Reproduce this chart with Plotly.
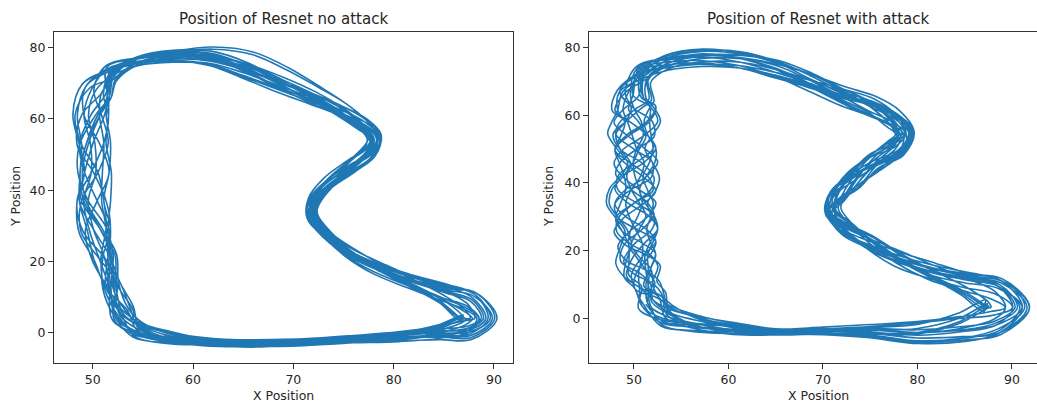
import numpy as np
import plotly.graph_objects as go

# ---------------- data: track centre waypoints ----------------
# Left panel ("no attack")
NO_ATTACK_X = [53.0, 54.5, 57.5, 61.0, 66.0, 71.0, 76.0, 80.5, 84.5, 87.3,
               88.3, 87.3, 85.0, 81.5, 78.3, 75.5, 73.3, 71.8, 72.0, 73.5,
               75.8, 77.6, 78.0, 76.8, 74.8, 72.0, 68.8, 65.3, 61.8, 58.0,
               54.5, 51.8, 50.3, 49.8, 50.0, 50.3, 50.0, 50.3, 51.0, 51.8]
NO_ATTACK_Y = [5.5, 1.0, -1.3, -2.5, -3.0, -2.6, -1.9, -1.0, 0.3, 1.8,
               4.0, 7.5, 10.5, 14.5, 18.3, 22.5, 27.5, 32.5, 37.0, 42.0,
               47.0, 51.0, 55.0, 58.5, 62.0, 65.8, 69.5, 73.5, 76.5, 77.3,
               76.2, 73.0, 68.0, 61.0, 53.0, 45.0, 37.0, 29.0, 21.0, 13.0]
# half-width of the band of laps at each waypoint
NO_ATTACK_SPREAD = [1.6, 1.2, 0.8, 0.6, 0.55, 0.55, 0.6, 0.8, 1.2, 1.8,
                    2.0, 1.8, 1.3, 1.0, 0.9, 0.9, 0.9, 1.0, 1.0, 1.0,
                    1.1, 1.1, 1.0, 1.1, 1.2, 1.2, 1.2, 1.2, 1.0, 0.9,
                    1.0, 1.5, 1.9, 2.0, 2.0, 2.0, 2.0, 1.9, 1.6, 1.5]
# lateral position of every lap at every waypoint (in ninths of the spread)
NO_ATTACK_LAPS = [
    [3, 4, 5, 4, 2, 0, -2, -3, -2, 0, 2, 3, 2, 0, -2, -3, -2, 0, 2, 4, 5, 4, 2, 0, -1, -2, -2, 0, 3, 4, 2, -3, -7, -2, 6, 8, 2, -5, -6, -1],
    [-2, -4, -5, -4, -3, -2, -1, 1, 3, 5, 7, 6, 4, 2, 1, 0, 1, 2, 3, 2, 0, -2, -4, -5, -4, -2, 0, 2, 3, 1, -1, -4, -3, -4, -5, -3, -4, -5, -3, 0],
    [5, 2, 0, -2, -4, -5, -6, -5, -4, -3, -1, 1, 3, 5, 6, 5, 3, 1, -1, -3, -4, -3, -1, 1, 3, 5, 6, 5, 3, 0, -3, -6, -8, -3, 3, 7, 5, -2, -7, -4],
    [-6, -3, 1, 3, 5, 6, 5, 4, 3, 4, 5, 7, 8, 6, 3, 0, -3, -4, -3, -1, 1, 3, 4, 3, 1, -1, -3, -4, -4, -3, -1, 3, 5, 6, 5, 7, 6, 4, 5, 3],
    [1, 6, 7, 5, 3, 2, 1, 0, -1, -3, -5, -7, -6, -4, -2, -1, 0, 1, 2, 3, 4, 5, 6, 5, 4, 3, 2, 1, 0, -1, -2, 0, -4, -8, -5, 2, 7, 6, -1, -6],
    [-5, -1, 2, 1, 0, -1, -3, -4, -5, -6, -7, -8, -6, -3, -1, 1, 2, 3, 4, 5, 6, 6, 5, 3, 1, 0, -1, -2, -3, -5, -4, -2, 0, 1, -1, 0, 2, 1, -1, 1],
    [7, 3, -1, -3, -3, -2, 0, 2, 4, 6, 8, 8, 6, 4, 2, 0, -2, -4, -5, -6, -5, -4, -2, 0, 2, 3, 4, 4, 5, 5, 3, 1, -6, -4, 2, 6, 3, -3, -8, -5],
    [-4, -6, -4, -2, 0, 1, 3, 5, 6, 7, 9, 8, 5, 2, -1, -3, -4, -3, -1, 1, 2, 1, 0, -2, -3, -4, -3, -1, 1, 2, 2, 4, -6, -7, -8, -6, -5, -7, -4, -2],
    [2, 0, 3, 5, 6, 4, 2, 0, -2, -4, -3, -2, 0, 3, 5, 6, 4, 2, 0, -2, -3, -5, -6, -4, -2, 0, 2, 4, 6, 6, 4, -1, -3, 4, 7, 1, -6, -7, 0, 5],
    [5, 7, 6, 3, 1, -1, -2, -1, 0, 1, 3, 4, 3, 1, -1, -2, -3, -2, 0, 2, 4, 6, 7, 6, 4, 2, 1, 0, -1, -2, -3, -5, -8, -4, 3, 7, 4, -2, -5, 2],
    [1, -3, -6, -6, -5, -3, -1, 1, 2, 2, 1, 0, -2, -4, -5, -4, -2, 0, 3, 5, 6, 5, 3, 1, -1, -3, -4, -5, -5, -4, -2, 2, 7, 8, 6, 5, 7, 8, 5, 3],
    [-3, 1, 4, 6, 5, 3, 1, -1, -3, -5, -6, -5, -3, -1, 1, 3, 5, 6, 5, 3, 1, -1, -3, -4, -3, -2, 0, 1, 2, 3, 3, 5, 1, -5, -7, -1, 5, 7, 2, -4],
    [6, 5, 2, 0, -2, -3, -4, -3, -1, 2, 4, 5, 6, 6, 4, 2, 0, -1, -2, -1, 0, 2, 3, 5, 7, 10, 14, 15, 12, 6, 2, -2, -5, 0, 6, 5, -2, -6, -3, 3],
    [-1, -5, -7, -5, -2, 0, 2, 3, 3, 2, 0, -2, -4, -6, -7, -5, -3, -1, 1, 3, 5, 4, 2, -1, -3, -5, -6, -6, -5, -3, 0, 3, 2, 3, 1, 2, 4, 3, 2, 1],
    [4, 2, 1, 2, 3, 4, 5, 6, 5, 3, 1, -1, -2, -2, -1, 1, 3, 4, 5, 4, 2, 0, -2, -3, -2, 0, 3, 6, 8, 7, 4, 0, -7, -6, 0, 5, 6, 1, -4, -6],
    [-7, -2, 3, 5, 4, 2, 0, -2, -4, -6, -8, -7, -5, -2, 0, 2, 3, 2, 0, -2, -4, -6, -5, -3, 0, 2, 4, 5, 4, 2, -1, -4, 3, 7, 5, -1, -5, -5, 1, 4],
    [3, 4, -1, -4, -6, -5, -3, -1, 1, 3, 6, 7, 7, 5, 3, 1, -1, -3, -4, -3, -1, 1, 3, 5, 7, 9, 12, 13, 10, 5, 3, -3, -7, -8, -6, -7, -8, -6, -5, -3],
    [0, -3, -2, 0, 2, 4, 5, 3, 1, -1, -2, -3, -3, -2, 0, 2, 4, 5, 6, 5, 3, 1, -1, -2, -1, 1, 2, 3, 1, -1, -2, 1, 5, 3, -3, -6, -2, 5, 6, 2],
]

# Right panel ("with attack")
ATTACK_X = [52.0, 53.5, 56.5, 60.5, 65.0, 70.0, 75.0, 80.0, 84.5, 88.0,
            89.3, 88.0, 85.0, 81.5, 78.0, 75.0, 72.5, 70.8, 71.5, 73.2,
            75.3, 77.8, 78.5, 77.3, 75.0, 72.0, 68.5, 65.0, 61.3, 57.3,
            53.5, 51.0,
            49.9, 50.0, 50.2, 50.1, 50.0, 50.2, 50.1, 50.0, 50.0, 50.1,
            50.2, 50.3, 50.6, 51.0, 51.5]
ATTACK_Y = [5.5, 1.0, -1.5, -3.0, -4.0, -3.7, -3.8, -4.2, -2.5, 0.3,
            3.2, 6.8, 10.0, 13.5, 17.5, 22.0, 26.5, 31.5, 36.0, 41.0,
            46.0, 50.5, 54.5, 58.5, 62.5, 66.0, 70.0, 73.5, 76.0, 76.8,
            75.3, 72.0,
            66.0, 62.0, 58.0, 54.0, 50.0, 46.0, 42.0, 38.0, 34.0, 30.0,
            26.0, 22.0, 18.0, 14.0, 10.0]
ATTACK_SPREAD = [2.0, 1.5, 1.0, 0.8, 0.5, 0.6, 0.9, 1.3, 1.6, 2.0,
                 2.3, 2.0, 1.5, 1.2, 1.1, 1.1, 1.2, 1.3, 1.3, 1.4,
                 1.4, 1.4, 1.3, 1.3, 1.4, 1.4, 1.4, 1.3, 1.1, 1.1,
                 1.3, 1.7,
                 2.6, 2.6, 2.6, 2.6, 2.6, 2.6, 2.6, 2.6, 2.6, 2.6,
                 2.6, 2.6, 2.6, 2.4, 2.2]
ATTACK_LAPS = [
    [4, 5, 4, 2, 0, -2, -3, -2, 0, 2, 4, 5, 3, 0, -3, -5, -2, 3, 6, 4, 1, -2, -4, -3, 0, 3, 5, 4, 2, 0, -2, -4, -7, -3, 4, 8, 5, -2, -7, -6, 0, 6, 7, 2, -4, -6, -2],
    [-3, -5, -6, -4, -2, 0, 2, 4, 6, 8, 9, 7, 4, 1, -1, 2, 5, 2, -3, -5, -4, -1, 2, 5, 6, 4, 1, -2, -4, -5, -3, 1, 2, 4, 3, 1, -1, -3, -2, 1, 3, 2, 0, -2, -1, 2, 4],
    [6, 3, 0, -3, -5, -6, -7, -8, -6, -3, 0, 2, 4, 6, 7, 4, 0, -4, -6, -3, 1, 4, 6, 5, 2, -1, -3, -5, -6, -4, -1, 3, 0, -6, -8, -3, 4, 8, 5, -2, -8, -5, 2, 7, 5, -1, -5],
    [-6, -2, 2, 4, 5, 6, 7, 8, 7, 6, 8, 9, 7, 4, 1, -2, -5, -3, 2, 5, 6, 3, 0, -3, -5, -4, -2, 0, 2, 3, 2, -1, -4, -6, -5, -6, -7, -5, -3, -5, -7, -6, -4, -5, -6, -3, 0],
    [2, 7, 8, 6, 3, 1, -1, -3, -5, -7, -8, -9, -7, -4, -1, 3, 6, 4, 0, -3, -5, -6, -4, -1, 2, 4, 6, 7, 5, 2, 0, -3, 3, 7, 2, -5, -7, 0, 6, 6, -1, -7, -6, 1, 6, 4, -2],
    [-5, 0, 3, 2, 0, -2, -4, -6, -8, -9, -9, -7, -5, -2, 1, 4, 2, -2, -5, -2, 2, 5, 7, 6, 3, 0, -2, -4, -6, -7, -5, -2, 5, 6, 4, 5, 7, 6, 4, 3, 5, 7, 5, 3, 4, 6, 3],
    [8, 4, 0, -2, -3, -2, 1, 4, 6, 8, 10, 9, 6, 3, 0, -3, -1, 3, 5, 2, -2, -5, -3, 0, 3, 4, 5, 5, 6, 6, 4, 1, -4, -8, -4, 3, 7, 2, -5, -7, 0, 7, 5, -2, -6, -3, 2],
    [-4, -7, -5, -2, 1, 3, 5, 7, 8, 9, 10, 8, 5, 1, -2, -4, -6, -2, 3, 6, 3, 0, -2, -4, -6, -5, -3, 0, 2, 4, 3, 5, 1, 0, -2, -3, -1, 1, 0, -2, -3, -1, 2, 3, 1, -1, -3],
    [1, -1, 2, 4, 6, 5, 3, 1, -2, -5, -6, -4, -1, 2, 5, 7, 4, 0, -4, -6, -5, -7, -6, -3, 0, 2, 4, 6, 8, 7, 5, 0, -2, 4, 8, 3, -4, -8, -4, 3, 7, 3, -4, -7, -1, 5, 6],
    [5, 8, 7, 4, 2, 0, -1, 0, 2, 3, 5, 6, 4, 1, -2, -5, -3, 1, 4, 7, 5, 7, 8, 6, 4, 2, 1, 0, -1, -3, -4, -6, -8, -6, -3, -5, -8, -7, -4, -2, -4, -7, -8, -5, -2, -1, 0],
    [0, -4, -7, -7, -6, -4, -2, 0, 1, 1, 0, -2, -4, -6, -4, 0, 4, 6, 3, -1, -4, -3, 1, 3, 1, -2, -4, -6, -6, -5, -3, 2, 6, 8, 2, -5, -8, -3, 4, 7, 2, -5, -8, -3, 3, 7, 4],
    [-3, 2, 5, 7, 6, 4, 2, 0, -3, -6, -7, -6, -4, -2, 1, 3, 6, 8, 5, 1, -1, -3, -5, -6, -4, -3, -1, 1, 2, 3, 4, 6, 3, 1, 4, 7, 5, 2, 4, 8, 9, 6, 3, 2, 5, 8, 6],
    [6, 6, 3, 1, -1, -3, -5, -7, -5, -1, 3, 5, 7, 8, 6, 2, -2, -4, -2, 1, 3, 6, 8, 9, 8, 6, 5, 4, 3, 2, 0, -3, -6, -1, 6, 7, 0, -6, -6, 1, 7, 6, -1, -7, -4, 3, 6],
    [-2, -6, -8, -6, -3, -1, 1, 2, 3, 4, 3, 1, -2, -5, -7, -5, -1, 3, 6, 4, 2, 0, -2, -4, -6, -7, -6, -5, -4, -2, 1, 4, 0, 2, -1, -4, -2, 1, 3, 1, -2, -4, -1, 2, 0, -3, -2],
    [3, 1, 0, 2, 4, 5, 6, 8, 9, 8, 7, 4, 1, -2, -1, 2, 5, 3, -1, -4, -6, -4, -1, 1, 2, 1, 2, 5, 7, 8, 6, 2, -3, -8, -5, 2, 7, 4, -3, -8, -4, 4, 8, 4, -3, -7, -4],
    [-7, -3, 2, 4, 3, 1, -1, -3, -5, -7, -9, -8, -6, -3, 0, 3, 1, -3, -6, -4, -1, 2, 4, 2, 0, 2, 4, 6, 5, 3, 0, -3, -5, -7, -9, -6, -4, -6, -9, -8, -5, -6, -8, -6, -3, -2, 1],
    [3, 5, 1, -3, -5, -4, -2, 0, 2, 4, 7, 8, 8, 6, 3, -1, -4, -2, 2, 5, 7, 5, 2, -1, -3, -1, 1, 3, 2, 0, -2, 1, 5, 0, -6, -7, -1, 6, 7, 1, -5, -7, -2, 5, 7, 2, -1],
    [0, -2, -3, -1, 1, 3, 4, 6, 7, 7, 6, 5, 3, 2, 4, 6, 3, -1, -3, -1, 1, 3, 5, 4, 2, 0, -1, -2, -1, 1, 2, -1, 4, 6, 9, 10, 6, 3, 5, 9, 10, 7, 4, 6, 9, 8, 4],
]

X_TICKS = [50, 60, 70, 80, 90]
Y_TICKS = [0, 20, 40, 60, 80]
TITLES = ["Position of Resnet no attack", "Position of Resnet with attack"]

LINE_COLOR = "#1f77b4"


def build_path(bx, by, spread, laps, ratio):
    """Place each lap across the band: waypoint + lateral offset along the path normal."""
    bx = np.asarray(bx, float)
    by = np.asarray(by, float)
    sp = np.asarray(spread, float)
    u, v = bx, by / ratio
    du = np.roll(u, -1) - np.roll(u, 1)
    dv = np.roll(v, -1) - np.roll(v, 1)
    ln = np.hypot(du, dv)
    nu, nv = dv / ln, -du / ln
    xs, ys = [], []
    for row in laps:
        d = sp * np.asarray(row, float) / 9.0
        xs.extend(bx + d * nu)
        ys.extend(by + d * nv * ratio)
    d0 = sp[0] * laps[-1][0] / 9.0
    xs.append(bx[0] + d0 * nu[0])
    ys.append(by[0] + d0 * nv[0] * ratio)
    return xs, ys


W, H = 1037, 403
lx, ly = build_path(NO_ATTACK_X, NO_ATTACK_Y, NO_ATTACK_SPREAD, NO_ATTACK_LAPS, 2.816)
rx, ry = build_path(ATTACK_X, ATTACK_Y, ATTACK_SPREAD, ATTACK_LAPS, 2.794)

fig = go.Figure()
fig.add_trace(go.Scatter(x=lx, y=ly, mode="lines", xaxis="x", yaxis="y",
                         line=dict(color=LINE_COLOR, width=1.6, shape="spline", smoothing=1.0),
                         hoverinfo="skip"))
fig.add_trace(go.Scatter(x=rx, y=ry, mode="lines", xaxis="x2", yaxis="y2",
                         line=dict(color=LINE_COLOR, width=1.6, shape="spline", smoothing=1.0),
                         hoverinfo="skip"))

axis_common = dict(showgrid=False, zeroline=False, showline=True, linecolor="#333",
                   linewidth=1, ticks="outside", ticklen=5, tickwidth=1, tickcolor="#333",
                   tickfont=dict(family="DejaVu Sans", size=12.5, color="#262626"))

ydom = [1 - 363 / H, 1 - 32 / H]
l_dom = [54 / W, 513 / W]
r_dom = [589 / W, 1.0]

fig.update_layout(
    width=W, height=H, margin=dict(l=0, r=0, t=0, b=0),
    paper_bgcolor="white", plot_bgcolor="white", showlegend=False,
    font=dict(family="DejaVu Sans", size=12.5, color="#262626"),
    xaxis=dict(domain=l_dom, range=[46.14, 91.9], tickvals=X_TICKS, anchor="y", mirror=True, **axis_common),
    yaxis=dict(domain=ydom, range=[-8.5, 84.4], tickvals=Y_TICKS, anchor="x", mirror=True, **axis_common),
    xaxis2=dict(domain=r_dom, range=[45.24, 45.24 + (W - 589) / 9.45], tickvals=X_TICKS, anchor="y2",
                mirror=True, **axis_common),
    yaxis2=dict(domain=ydom, range=[-13.2, 84.6], tickvals=Y_TICKS, anchor="x2", mirror=False, **axis_common),
)

ann = []
title_centers = [(54 + 513) / 2 / W, (589 + 1048) / 2 / W]
for cx, t in zip(title_centers, TITLES):
    ann.append(dict(text=t, x=cx, y=1 - 18.5 / H, xref="paper", yref="paper",
                    showarrow=False, xanchor="center", yanchor="middle",
                    font=dict(family="DejaVu Sans", size=15, color="#262626")))
for cx in title_centers:
    ann.append(dict(text="X Position", x=cx, y=1 - 395 / H, xref="paper", yref="paper",
                    showarrow=False, xanchor="center", yanchor="middle",
                    font=dict(family="DejaVu Sans", size=12.5, color="#262626")))
for px in [15, 548]:
    ann.append(dict(text="Y Position", x=px / W, y=1 - 197 / H, xref="paper", yref="paper",
                    showarrow=False, xanchor="center", yanchor="middle", textangle=-90,
                    font=dict(family="DejaVu Sans", size=12.5, color="#262626")))
fig.update_layout(annotations=ann)

fig.write_html("out.html",
               config={"displayModeBar": False},
               post_script="document.body.style.margin='0px';document.body.style.overflow='hidden';")
